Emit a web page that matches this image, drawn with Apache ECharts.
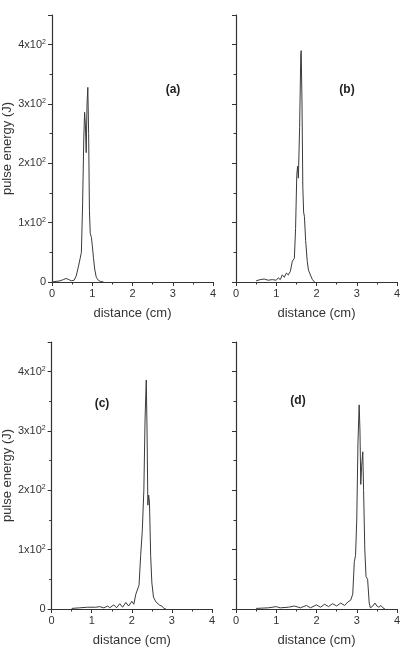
<!DOCTYPE html>
<html>
<head>
    <meta charset="utf-8">
    <title>pulse energy</title>
    <script src="https://cdn.jsdelivr.net/npm/echarts@6/dist/echarts.min.js"></script>
    <style>
        html, body { margin: 0; padding: 0; background: #fff; }
    </style>
</head>
<body>
    <div id="main" style="width: 411px;height:653px;"></div>
    <script type="text/javascript">
        var chart = echarts.init(document.getElementById('main'));

        // [distance (cm), pulse energy (J)]
        var pulseA = [[0, 0], [0.1, 1], [0.2, 2], [0.28, 4], [0.35, 6], [0.42, 4], [0.48, 2], [0.55, 3],
            [0.6, 10], [0.65, 24], [0.7, 40], [0.73, 50], [0.76, 130], [0.79, 243], [0.81, 286], [0.83, 265],
            [0.85, 218], [0.87, 300], [0.89, 328], [0.91, 250], [0.93, 120], [0.95, 82], [0.98, 75],
            [1.0, 62], [1.03, 41], [1.06, 22], [1.1, 8], [1.15, 3], [1.2, 1], [1.28, 0]];
        var pulseB = [[0.5, 2], [0.6, 4], [0.7, 5], [0.8, 3], [0.9, 4], [1.0, 3], [1.05, 7], [1.1, 4],
            [1.15, 12], [1.2, 8], [1.25, 15], [1.3, 12], [1.35, 18], [1.4, 35], [1.45, 40], [1.48, 90],
            [1.51, 180], [1.53, 195], [1.55, 175], [1.58, 260], [1.61, 385], [1.62, 390], [1.64, 300],
            [1.66, 160], [1.68, 118], [1.7, 110], [1.73, 70], [1.77, 35], [1.8, 20], [1.83, 15],
            [1.86, 10], [1.9, 4], [1.95, 0]];
        var pulseC = [[0.5, 1], [0.7, 2], [0.9, 3], [1.1, 3], [1.2, 4], [1.3, 2], [1.4, 5], [1.45, 2],
            [1.55, 7], [1.62, 2], [1.7, 9], [1.77, 3], [1.85, 11], [1.92, 5], [2.0, 13], [2.05, 8],
            [2.1, 25], [2.14, 22], [2.18, 40], [2.22, 90], [2.26, 130], [2.28, 133], [2.3, 200],
            [2.33, 320], [2.36, 386], [2.38, 300], [2.4, 175], [2.42, 192], [2.44, 180], [2.47, 90],
            [2.5, 44], [2.54, 20], [2.6, 12], [2.7, 6], [2.75, 5], [2.8, 1], [2.85, 0]];
        var pulseD = [[0.5, 1], [0.8, 2], [1.0, 4], [1.1, 2], [1.3, 3], [1.45, 5], [1.6, 2], [1.75, 6],
            [1.85, 2], [2.0, 7], [2.1, 3], [2.2, 8], [2.3, 4], [2.4, 9], [2.5, 5], [2.6, 10], [2.7, 6],
            [2.78, 12], [2.85, 15], [2.9, 25], [2.94, 80], [2.97, 90], [3.0, 150], [3.03, 280],
            [3.06, 344], [3.08, 300], [3.1, 210], [3.12, 240], [3.15, 265], [3.17, 200], [3.2, 100],
            [3.23, 55], [3.27, 50], [3.31, 10], [3.34, 2], [3.4, 5], [3.45, 10], [3.5, 5], [3.55, 3],
            [3.6, 6], [3.65, 2], [3.7, 0]];

        var panelNames = ['(a)', '(b)', '(c)', '(d)'];
        var yTickLabels = { 0: '0', 100: '1x10', 200: '2x10', 300: '3x10', 400: '4x10' };

        var grids = [
            { left: 52, top: 15, width: 161, height: 267 },
            { left: 236, top: 15, width: 161, height: 267 },
            { left: 51, top: 342, width: 161, height: 267 },
            { left: 236, top: 342, width: 161, height: 267 }
        ];
        var labelPos = [[173, 90], [347, 90], [102, 404], [298, 401]];
        var series = [pulseA, pulseB, pulseC, pulseD];

        var axisColor = '#333';
        var font = 'Liberation Sans, Arial, sans-serif';

        var xAxes = [], yAxes = [], seriesList = [], graphics = [];
        for (var i = 0; i < 4; i++) {
            var showYLabel = (i % 2 === 0);
            xAxes.push({
                gridIndex: i, type: 'value', min: 0, max: 4, interval: 1,
                name: 'distance (cm)', nameLocation: 'middle', nameGap: 25,
                nameTextStyle: { fontFamily: font, fontSize: 13, color: '#333' },
                axisLine: { lineStyle: { color: axisColor, width: 1.2 } },
                axisTick: { length: 4, lineStyle: { color: axisColor } },
                minorTick: { show: true, splitNumber: 2, length: 2.5, lineStyle: { color: axisColor } },
                axisLabel: { fontFamily: font, fontSize: 11, color: '#333', margin: 6 },
                splitLine: { show: false }
            });
            yAxes.push({
                gridIndex: i, type: 'value', min: 0, max: 450, interval: 100,
                name: showYLabel ? 'pulse energy (J)' : '', nameLocation: 'middle', nameGap: 34,
                nameTextStyle: { fontFamily: font, fontSize: 13, color: '#333' },
                axisLine: { show: true, lineStyle: { color: axisColor, width: 1.2 } },
                axisTick: { show: true, length: 4, lineStyle: { color: axisColor } },
                minorTick: { show: true, splitNumber: 2, length: 2.5, lineStyle: { color: axisColor } },
                axisLabel: {
                    show: showYLabel, margin: 6,
                    formatter: function (v) {
                        if (v === 0) return '{b|0}';
                        if (yTickLabels[v] === undefined) return '';
                        return '{b|' + yTickLabels[v] + '}{s|2}';
                    },
                    rich: {
                        b: { fontFamily: font, fontSize: 11, color: '#333' },
                        s: { fontFamily: font, fontSize: 7, color: '#333', padding: [0, 0, 6, 0] }
                    }
                },
                splitLine: { show: false }
            });
            seriesList.push({
                type: 'line', xAxisIndex: i, yAxisIndex: i, data: series[i],
                showSymbol: false, symbol: 'none', smooth: false,
                lineStyle: { color: '#3a3a3a', width: 1 }
            });
            graphics.push({
                type: 'text', x: labelPos[i][0], y: labelPos[i][1],
                style: {
                    text: panelNames[i], fontFamily: font, fontSize: 12, fontWeight: 'bold',
                    fill: '#222', textAlign: 'center', textVerticalAlign: 'middle'
                }
            });
        }

        var option = {
            animation: false,
            backgroundColor: '#fff',
            grid: grids,
            xAxis: xAxes,
            yAxis: yAxes,
            series: seriesList,
            graphic: graphics
        };

        chart.setOption(option);
    </script>
</body>
</html>
